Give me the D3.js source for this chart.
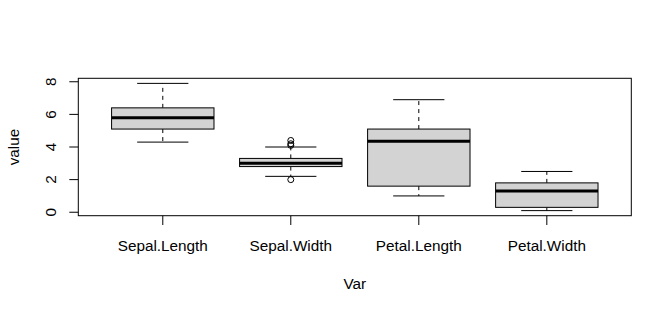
<!DOCTYPE html>
<html><head><meta charset="utf-8">
<script src="https://cdn.jsdelivr.net/npm/d3@7"></script>
<style>body{margin:0;background:#fff}svg text{font-family:"Liberation Sans",Arial,sans-serif}</style>
</head><body>
<svg id="c" width="672" height="313"></svg>
<script>
const categories = ["Sepal.Length","Sepal.Width","Petal.Length","Petal.Width"];
const mins    = [4.3, 2.2, 1.0, 0.1];
const q1s     = [5.1, 2.8, 1.6, 0.3];
const medians = [5.8, 3.0, 4.35, 1.3];
const q3s     = [6.4, 3.3, 5.1, 1.8];
const maxs    = [7.9, 4.0, 6.9, 2.5];
const outliers = [[], [4.4, 4.1, 4.2, 2.0], [], []];
const yTicks = [0, 2, 4, 6, 8];

const svg = d3.select("#c");
const L = 78.3, R = 631.3, T = 78.3, B = 215.7;
const FS = 15.3;
const x = d3.scaleLinear().domain([0.34, 4.66]).range([L, R]);
const y = d3.scaleLinear().domain([-0.212, 8.212]).range([B, T]);

const g = svg.append("g");
categories.forEach((c, i) => {
  const cx = x(i + 1), hw = (x(1.4) - x(1)), sw = (x(1.2) - x(1));
  g.append("line").attr("x1", cx).attr("x2", cx).attr("y1", y(q3s[i])).attr("y2", y(maxs[i]))
    .attr("stroke", "#000").attr("stroke-dasharray", "4,4");
  g.append("line").attr("x1", cx).attr("x2", cx).attr("y1", y(q1s[i])).attr("y2", y(mins[i]))
    .attr("stroke", "#000").attr("stroke-dasharray", "4,4");
  g.append("line").attr("x1", cx - sw).attr("x2", cx + sw).attr("y1", y(maxs[i])).attr("y2", y(maxs[i])).attr("stroke", "#000");
  g.append("line").attr("x1", cx - sw).attr("x2", cx + sw).attr("y1", y(mins[i])).attr("y2", y(mins[i])).attr("stroke", "#000");
  g.append("rect").attr("x", cx - hw).attr("width", 2 * hw).attr("y", y(q3s[i])).attr("height", y(q1s[i]) - y(q3s[i]))
    .attr("fill", "#d3d3d3").attr("stroke", "#000").attr("stroke-width", 1);
  g.append("line").attr("x1", cx - hw).attr("x2", cx + hw).attr("y1", y(medians[i])).attr("y2", y(medians[i]))
    .attr("stroke", "#000").attr("stroke-width", 3);
  outliers[i].forEach(v => {
    g.append("circle").attr("cx", cx).attr("cy", y(v)).attr("r", 3).attr("fill", "none").attr("stroke", "#000");
  });
});

svg.append("rect").attr("x", L).attr("y", T).attr("width", R - L).attr("height", B - T)
  .attr("fill", "none").attr("stroke", "#000");

yTicks.forEach(t => {
  svg.append("line").attr("x1", 69.3).attr("x2", L).attr("y1", y(t)).attr("y2", y(t)).attr("stroke", "#000");
  svg.append("text").attr("transform", `translate(55.5,${y(t)}) rotate(-90)`).attr("text-anchor", "middle")
    .attr("font-size", FS).text(t);
});
categories.forEach((c, i) => {
  svg.append("line").attr("x1", x(i + 1)).attr("x2", x(i + 1)).attr("y1", B).attr("y2", 225).attr("stroke", "#000");
  svg.append("text").attr("x", x(i + 1)).attr("y", 250.5).attr("text-anchor", "middle")
    .attr("font-size", FS).text(c);
});
svg.append("text").attr("x", (L + R) / 2).attr("y", 289).attr("text-anchor", "middle").attr("font-size", FS).text("Var");
svg.append("text").attr("transform", `translate(19.3,${(T + B) / 2}) rotate(-90)`).attr("text-anchor", "middle")
  .attr("font-size", FS).text("value");
</script>
</body></html>
